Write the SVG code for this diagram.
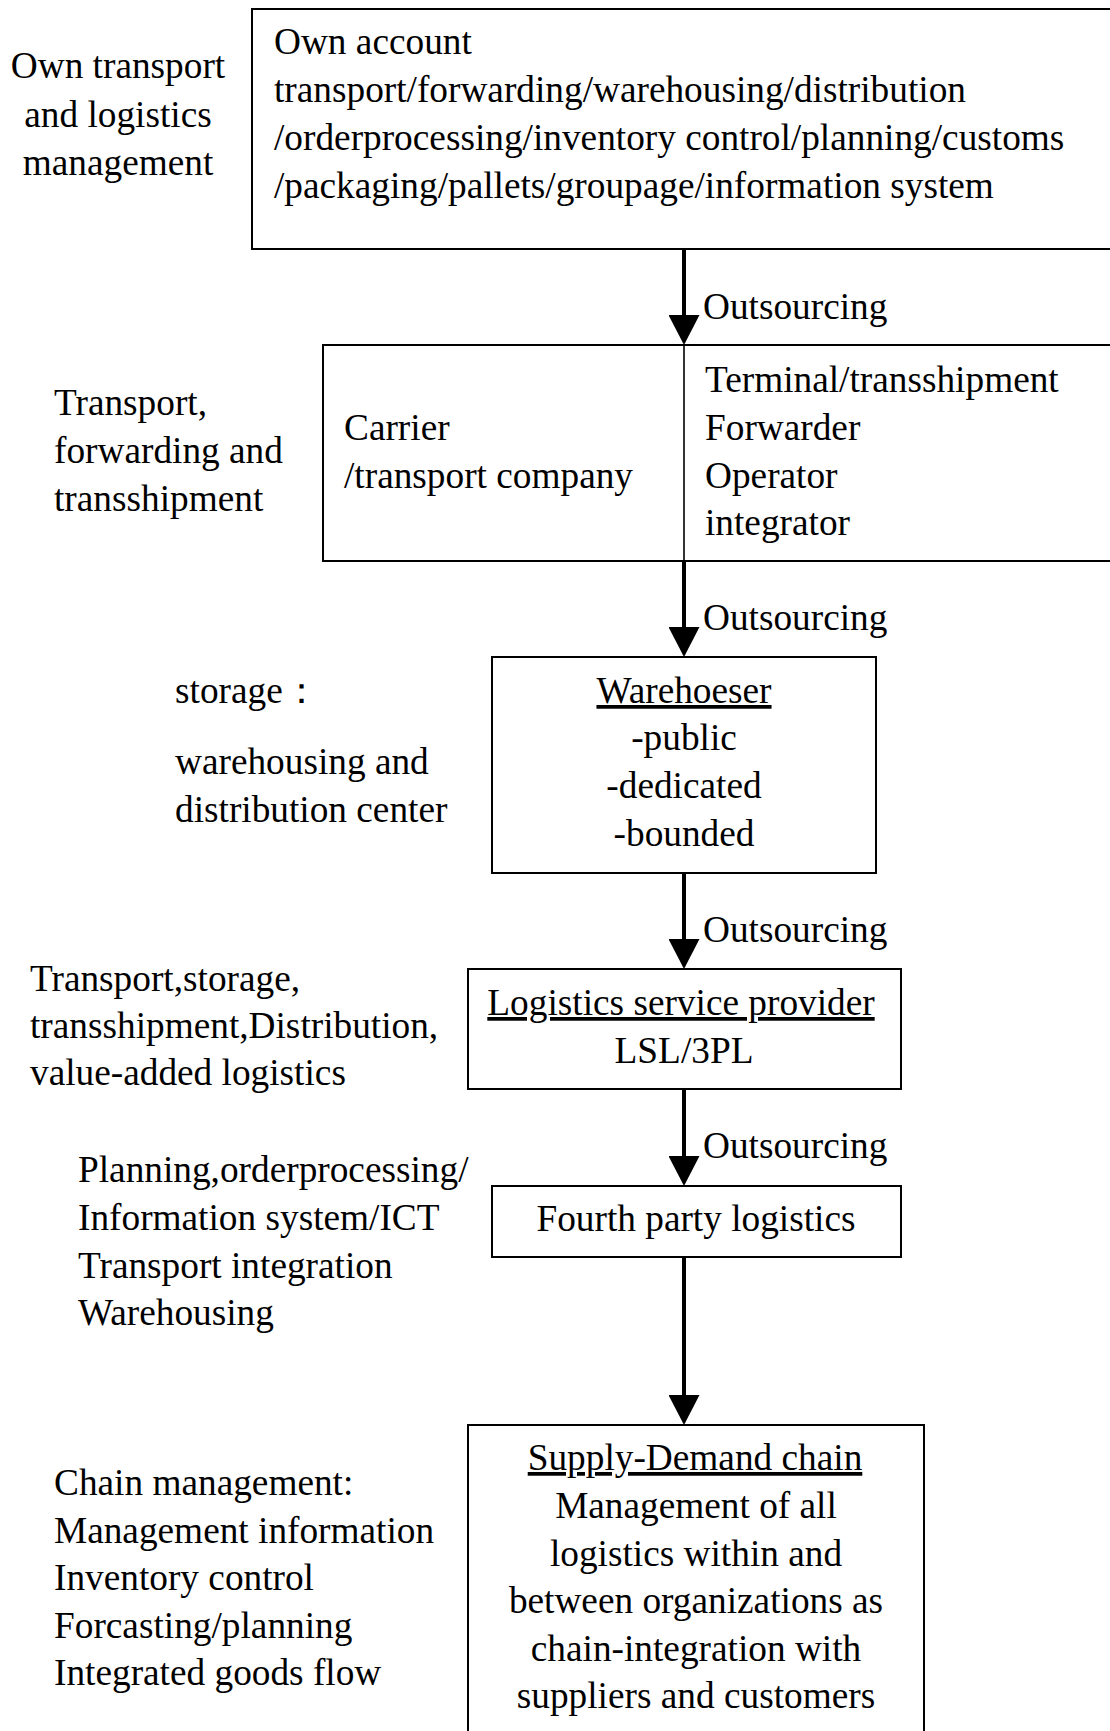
<svg xmlns="http://www.w3.org/2000/svg" width="1110" height="1731" viewBox="0 0 1110 1731">
<defs>
<style>
.t{font-family:"Liberation Serif","Times New Roman",serif;font-size:37.3px;fill:#000}
.c{text-anchor:middle}
.u{text-decoration:underline}
.box{fill:#fff;stroke:#000;stroke-width:2}
.div{stroke:#000;stroke-width:1.6}
.arr{stroke:#000;stroke-width:4;fill:none;marker-end:url(#ah)}
</style>
<marker id="ah" markerUnits="userSpaceOnUse" markerWidth="30" markerHeight="31" viewBox="0 0 30 31" refX="0" refY="15.5" orient="auto">
<path d="M0,0 L30,15.5 L0,31 Z" fill="#000"/>
</marker>
</defs>
<rect width="1110" height="1731" fill="#fff"/>

<g id="label-own">
<text class="t c" x="118" y="78">Own transport</text>
<text class="t c" x="118" y="127">and logistics</text>
<text class="t c" x="118" y="175">management</text>
</g>
<g id="node-own-account">
<rect class="box" x="252" y="9" width="870" height="240"/>
<text class="t" x="274" y="54">Own account</text>
<text class="t" x="274" y="102">transport/forwarding/warehousing/distribution</text>
<text class="t" x="274" y="150">/orderprocessing/inventory control/planning/customs</text>
<text class="t" x="274" y="198">/packaging/pallets/groupage/information system</text>
</g>

<g id="label-transport">
<text class="t" x="54" y="415">Transport,</text>
<text class="t" x="54" y="463">forwarding and</text>
<text class="t" x="54" y="511">transshipment</text>
</g>
<g id="node-carrier">
<rect class="box" x="323" y="345" width="800" height="216"/>
<line class="div" x1="684" y1="345" x2="684" y2="561"/>
<text class="t" x="344" y="440">Carrier</text>
<text class="t" x="344" y="488">/transport company</text>
<text class="t" x="705" y="392">Terminal/transshipment</text>
<text class="t" x="705" y="440">Forwarder</text>
<text class="t" x="705" y="488">Operator</text>
<text class="t" x="705" y="535">integrator</text>
</g>

<g id="label-storage">
<text class="t" x="175" y="703">storage：</text>
<text class="t" x="175" y="774">warehousing and</text>
<text class="t" x="175" y="822">distribution center</text>
</g>
<g id="node-warehouser">
<rect class="box" x="492" y="657" width="384" height="216"/>
<text class="t c u" x="684" y="703">Warehoeser</text>
<text class="t c" x="684" y="750">-public</text>
<text class="t c" x="684" y="798">-dedicated</text>
<text class="t c" x="684" y="846">-bounded</text>
</g>

<g id="label-lsp">
<text class="t" x="30" y="991">Transport,storage,</text>
<text class="t" x="30" y="1038">transshipment,Distribution,</text>
<text class="t" x="30" y="1085">value-added logistics</text>
</g>
<g id="node-lsp">
<rect class="box" x="468" y="969" width="433" height="120"/>
<text class="t c u" x="681" y="1015">Logistics service provider</text>
<text class="t c" x="684" y="1063">LSL/3PL</text>
</g>

<g id="label-4pl">
<text class="t" x="78" y="1182">Planning,orderprocessing/</text>
<text class="t" x="78" y="1230">Information system/ICT</text>
<text class="t" x="78" y="1278">Transport integration</text>
<text class="t" x="78" y="1325">Warehousing</text>
</g>
<g id="node-4pl">
<rect class="box" x="492" y="1186" width="409" height="71"/>
<text class="t c" x="696" y="1231">Fourth party logistics</text>
</g>

<g id="label-chain">
<text class="t" x="54" y="1495">Chain management:</text>
<text class="t" x="54" y="1543">Management information</text>
<text class="t" x="54" y="1590">Inventory control</text>
<text class="t" x="54" y="1638">Forcasting/planning</text>
<text class="t" x="54" y="1685">Integrated goods flow</text>
</g>
<g id="node-chain">
<rect class="box" x="468" y="1425" width="456" height="330"/>
<text class="t c u" x="695" y="1470">Supply-Demand chain</text>
<text class="t c" x="696" y="1518">Management of all</text>
<text class="t c" x="696" y="1566">logistics within and</text>
<text class="t c" x="696" y="1613">between organizations as</text>
<text class="t c" x="696" y="1661">chain-integration with</text>
<text class="t c" x="696" y="1708">suppliers and customers</text>
</g>

<g id="connectors">
<line class="arr" x1="684" y1="249" x2="684" y2="315"/>
<text class="t" x="703" y="319">Outsourcing</text>
<line class="arr" x1="684" y1="561" x2="684" y2="627"/>
<text class="t" x="703" y="630">Outsourcing</text>
<line class="arr" x1="684" y1="873" x2="684" y2="939"/>
<text class="t" x="703" y="942">Outsourcing</text>
<line class="arr" x1="684" y1="1089" x2="684" y2="1156"/>
<text class="t" x="703" y="1158">Outsourcing</text>
<line class="arr" x1="684" y1="1257" x2="684" y2="1395"/>
</g>
</svg>
